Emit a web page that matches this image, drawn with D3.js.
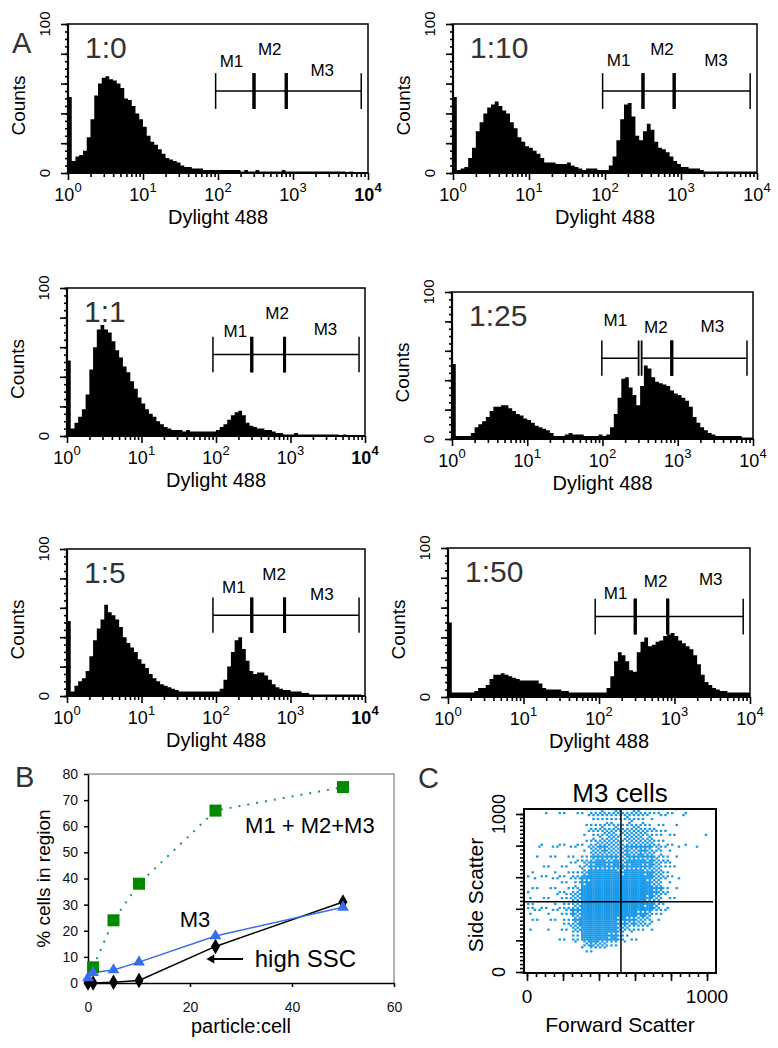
<!DOCTYPE html>
<html>
<head>
<meta charset="utf-8">
<script src="https://cdn.jsdelivr.net/npm/d3@7"></script>
<style>
body { margin: 0; background: #fff; }
svg { display: block; font-family: Arial, "Liberation Sans", sans-serif; }
</style>
</head>
<body>
<svg id="fig" width="778" height="1048"></svg>
<script>
// ---------------- data ----------------
// histogram counts, 20 log bins per decade from 10^0 to 10^4
var binsPerDecade = 20;
var samples = ["1:0", "1:10", "1:1", "1:25", "1:5", "1:50"];

var counts_1_0 = [51,8,11,12,15,24,36,52,60,64, 65,63,62,60,57,50,49,45,40,36,
  31,25,21,19,16,13,10,9,8,7, 5,4,4,3,3,3,2,2,2,2, 2,2,2,2,2,2,1,2,1,1,
  2,1,1,1,1,1,1,2,1,1, 1,1,1,1,1,1,1,1,1,1, 1,1,1,1,0,1,0,0,0,0];
var counts_1_10 = [51,2,3,4,10,17,28,34,40,44, 46,48,45,42,40,34,30,24,21,18,
  17,15,13,10,7,7,7,6,6,6, 7,5,4,3,2,3,3,3,2,2, 2,5,11,22,36,46,47,38,25,22,
  28,33,29,21,17,16,14,11,8,6, 4,4,3,3,3,2,1,1,1,1, 1,1,1,1,1,1,1,1,1,1];
var counts_1_1 = [51,5,9,13,18,28,45,60,72,75, 72,70,64,58,53,47,43,37,32,26,
  22,18,15,13,10,8,6,5,4,4, 4,3,4,3,3,3,3,3,3,3, 4,6,8,11,14,16,17,14,9,7,
  6,5,5,4,4,3,2,2,1,1, 1,2,1,1,1,1,1,1,1,1, 1,1,1,0,1,0,0,0,0,0];
var counts_1_25 = [51,2,2,2,2,4,8,10,12,15, 19,22,22,23,23,21,19,17,16,14,
  13,11,9,8,7,6,4,2,2,2, 3,4,3,3,3,2,2,2,2,3, 2,3,8,17,28,41,42,35,30,23,
  36,50,48,42,39,38,37,36,33,31, 30,28,26,22,15,11,8,6,4,3, 2,2,2,2,2,2,2,1,1,1];
var counts_1_5 = [51,3,7,10,12,17,27,38,46,52, 62,57,55,52,47,40,36,33,30,25,
  22,19,15,12,10,8,7,6,5,4, 3,3,3,3,3,3,3,3,3,3, 3,5,11,20,30,38,40,32,24,17,
  15,16,16,14,11,8,6,5,4,4, 3,3,3,2,2,1,1,1,1,1, 1,1,1,1,1,1,1,1,1,0];
var counts_1_50 = [50,3,3,3,3,3,3,4,6,6, 8,12,15,15,16,15,14,13,12,11,
  11,11,11,11,9,6,5,5,5,5, 4,4,3,3,3,3,3,3,3,3, 3,3,6,14,24,30,28,24,18,17,
  30,37,40,34,35,37,38,41,42,43, 41,38,36,34,32,28,22,15,10,8, 6,5,4,4,3,3,3,3,3,3];
var histCounts = [counts_1_0, counts_1_10, counts_1_1, counts_1_25, counts_1_5, counts_1_50];

// marker gates (Dylight 488 values) and their drawing level (counts)
var gateM1 = [[93,302],[93,316],[91,302],[98,302],[91,302],[89,302]];
var gateM2 = [[302,813],[316,813],[302,832],[331,832],[302,832],[302,813]];
var gateM3 = [[813,8128],[813,8128],[832,8318],[832,8318],[832,8318],[813,8128]];
var gateLevel = [55,55,55,55,55,54];
var gateNames = ["M1", "M2", "M3"];

// panel B
var ratio = [0, 1, 5, 10, 25, 50];
var pctAll = [null, 6, 24, 38, 66, 75];  // M1+M2+M3 (no visible point at 0)
var pctM3 = [2, 4, 5, 8, 18, 29];        // M3
var pctSSC = [0, 0, 0.3, 1, 14, 31];     // high SSC
var bYTicks = [0,10,20,30,40,50,60,70,80];
var bXTicks = [0,20,40,60];

// panel C: event density in 50x50 cells, rows from SSC 1000-1050 down to 0-50,
// columns FSC 0-50 ... 950-1000 (0 = empty, 9 = solid)
var sscDensity = [
  [0,0,1,1,1,1,2,3,4,4,4,4,4,3,3,2,2,1,0,0],
  [0,0,0,0,0,0,1,3,3,3,3,4,3,2,1,1,0,1,0,0],
  [0,0,0,0,0,0,1,3,4,4,3,4,4,3,2,1,1,0,0,0],
  [0,0,0,0,0,0,2,3,4,5,4,5,5,4,3,2,1,0,0,1],
  [0,1,0,1,1,1,2,4,5,5,4,5,5,5,3,2,1,1,0,0],
  [0,1,1,1,1,1,2,5,6,5,5,6,6,6,4,2,1,0,1,0],
  [0,1,1,1,1,2,3,6,6,6,5,7,7,6,4,3,1,0,0,0],
  [0,1,1,1,2,2,4,7,7,7,6,7,7,7,5,3,1,0,0,0],
  [2,1,1,2,2,3,6,8,8,8,7,8,8,7,5,3,1,0,0,0],
  [1,0,1,2,2,3,7,9,9,9,8,8,8,7,5,2,1,0,0,0],
  [2,1,1,2,2,4,8,9,9,9,8,9,9,8,6,3,1,0,0,0],
  [1,1,1,2,3,5,8,9,9,9,8,9,8,7,5,2,1,0,0,0],
  [3,1,1,2,3,5,8,9,9,9,8,8,8,7,4,2,0,0,0,0],
  [2,1,2,2,3,6,9,9,9,9,8,8,7,6,3,1,0,0,0,0],
  [1,1,1,1,3,6,9,9,9,9,7,6,5,4,1,0,0,0,0,0],
  [1,0,1,1,2,5,9,9,9,8,5,4,3,2,0,0,0,0,0,0],
  [0,0,0,1,1,3,8,9,9,7,3,2,1,0,0,0,0,0,0,0],
  [0,0,0,0,0,1,4,6,5,3,1,0,0,0,0,0,0,0,0,0],
  [0,0,0,0,0,0,1,1,0,0,0,0,0,0,0,0,0,0,0,0],
  [0,0,0,0,0,0,0,0,0,0,0,0,0,0,0,0,0,0,0,0],
  [0,0,0,0,0,0,0,0,0,0,0,0,0,0,0,0,0,0,0,0]
];
var fscGate = 522, sscGate = 445;

// ---------------- layout ----------------
var svg = d3.select("#fig");

var histLayout = [
  {left: 68,  top: 24,  right: 368, bottom: 173, boldEnd: true,
   mLabels: [[2.18,71],[2.69,79],[3.39,65]]},
  {left: 453, top: 24,  right: 757, bottom: 173,
   mLabels: [[2.18,72],[2.75,79],[3.46,72]]},
  {left: 67,  top: 288, right: 365, bottom: 436, boldEnd: true,
   mLabels: [[2.26,67],[2.82,79],[3.47,68]]},
  {left: 452, top: 292, right: 753, bottom: 439,
   mLabels: [[2.17,77],[2.71,72],[3.46,73]]},
  {left: 67,  top: 549, right: 365, bottom: 696, boldEnd: true,
   mLabels: [[2.24,70],[2.78,79],[3.42,65]]},
  {left: 448, top: 548, right: 750, bottom: 697,
   mLabels: [[2.22,66],[2.75,74],[3.48,75]]}
];

function drawHist(k) {
  var L = histLayout[k];
  var data = histCounts[k];
  var x = d3.scaleLog().domain([1, 1e4]).range([L.left, L.right]);
  var y = d3.scaleLinear().domain([0, 100]).range([L.bottom, L.top]);
  var g = svg.append("g");

  // histogram as a step area
  var pts = data.map(function(v, i) { return [Math.pow(10, i / binsPerDecade), v]; });
  pts.push([1e4, data[data.length - 1]]);
  g.append("path")
    .datum(pts)
    .attr("d", d3.area()
      .curve(d3.curveStepAfter)
      .x(function(d) { return x(d[0]); })
      .y0(y(0))
      .y1(function(d) { return y(d[1]); }))
    .attr("fill", "#000");

  // frame
  g.append("rect")
    .attr("x", L.left).attr("y", L.top)
    .attr("width", L.right - L.left).attr("height", L.bottom - L.top)
    .attr("fill", "none").attr("stroke", "#000").attr("stroke-width", 1.5);
  g.append("line")
    .attr("x1", L.left).attr("x2", L.left).attr("y1", L.top).attr("y2", L.bottom)
    .attr("stroke", "#000").attr("stroke-width", 2.2);
  g.append("line")
    .attr("x1", L.left).attr("x2", L.right).attr("y1", L.bottom).attr("y2", L.bottom)
    .attr("stroke", "#000").attr("stroke-width", 2.2);

  // y ticks
  var yMinor = g.append("g").attr("transform", "translate(" + L.left + ",0)")
    .call(d3.axisLeft(y).tickValues(d3.range(0, 101, 5)).tickSize(3).tickFormat(""));
  var yMajor = g.append("g").attr("transform", "translate(" + L.left + ",0)")
    .call(d3.axisLeft(y).tickValues(d3.range(0, 101, 20)).tickSize(7).tickFormat(""));
  [yMinor, yMajor].forEach(function(a) {
    a.select(".domain").remove();
    a.selectAll("line").attr("stroke-width", 1.6);
  });

  // x ticks (log)
  var minor = [];
  for (var d = 0; d < 4; d++) for (var m = 2; m <= 9; m++) minor.push(m * Math.pow(10, d));
  var xMinor = g.append("g").attr("transform", "translate(0," + L.bottom + ")")
    .call(d3.axisBottom(x).tickValues(minor).tickSize(4).tickFormat(""));
  var xMajor = g.append("g").attr("transform", "translate(0," + L.bottom + ")")
    .call(d3.axisBottom(x).tickValues([1, 10, 100, 1000, 10000]).tickSize(7).tickFormat(""));
  [xMinor, xMajor].forEach(function(a) {
    a.select(".domain").remove();
    a.selectAll("line").attr("stroke-width", 1.6);
  });

  // x tick labels 10^n
  [0, 1, 2, 3, 4].forEach(function(e) {
    var t = g.append("text")
      .attr("x", x(Math.pow(10, e))).attr("y", L.bottom + 28)
      .attr("text-anchor", "middle").attr("font-size", 18)
      .attr("font-weight", (e === 4 && L.boldEnd) ? "bold" : "normal")
      .text("10");
    t.append("tspan").attr("dy", -9).attr("font-size", 13).text(e);
  });
  g.append("text")
    .attr("x", (L.left + L.right) / 2).attr("y", L.bottom + 51)
    .attr("text-anchor", "middle").attr("font-size", 20)
    .text("Dylight 488");

  // y labels (rotated)
  [[100, L.top], [0, L.bottom]].forEach(function(p) {
    g.append("text")
      .attr("transform", "translate(" + (L.left - 18) + "," + p[1] + ") rotate(-90)")
      .attr("text-anchor", "middle").attr("font-size", 15)
      .text(p[0]);
  });
  g.append("text")
    .attr("transform", "translate(" + (L.left - 43) + "," + ((L.top + L.bottom) / 2 + 7) + ") rotate(-90)")
    .attr("text-anchor", "middle").attr("font-size", 19)
    .text("Counts");

  // sample label
  g.append("text")
    .attr("x", L.left + 17).attr("y", L.top + 34)
    .attr("font-size", 30).attr("fill", "#333")
    .text(samples[k]);

  // gates
  var gy = y(gateLevel[k]);
  var half = y(0) - y(12);
  [gateM1[k], gateM2[k], gateM3[k]].forEach(function(gt, j) {
    g.append("line")
      .attr("x1", x(gt[0])).attr("x2", x(gt[1])).attr("y1", gy).attr("y2", gy)
      .attr("stroke", "#000").attr("stroke-width", 1.5);
    gt.forEach(function(v, s) {
      var outer = (j === 0 && s === 0) || (j === 2 && s === 1);
      var split = gateM1[k][1] !== gateM2[k][0] && j < 2 && ((j === 0 && s === 1) || (j === 1 && s === 0));
      g.append("line")
        .attr("x1", x(v)).attr("x2", x(v)).attr("y1", gy - half).attr("y2", gy + half)
        .attr("stroke", "#000").attr("stroke-width", outer ? 1.5 : (split ? 1.8 : 3));
    });
    var lp = L.mLabels[j];
    g.append("text")
      .attr("x", x(Math.pow(10, lp[0]))).attr("y", y(lp[1]))
      .attr("text-anchor", "middle").attr("font-size", 17)
      .text(gateNames[j]);
  });
}

for (var k = 0; k < 6; k++) drawHist(k);

// panel letters
[["A", 12, 53], ["B", 15, 787], ["C", 418, 788]].forEach(function(p) {
  svg.append("text").attr("x", p[1]).attr("y", p[2])
    .attr("font-size", 29).attr("fill", "#333").text(p[0]);
});

// ---------------- panel B ----------------
(function() {
  var x = d3.scaleLinear().domain([0, 60]).range([88, 394]);
  var y = d3.scaleLinear().domain([0, 80]).range([983, 774]);
  var g = svg.append("g");

  // grey frame top/right
  g.append("path")
    .attr("d", "M" + x(0) + "," + y(80) + "H" + x(60) + "V" + y(0))
    .attr("fill", "none").attr("stroke", "#999").attr("stroke-width", 1.5);

  var ya = g.append("g").attr("transform", "translate(" + x(0) + ",0)")
    .call(d3.axisLeft(y).tickValues(bYTicks).tickSize(4).tickSizeOuter(0).tickPadding(6));
  var xa = g.append("g").attr("transform", "translate(0," + y(0) + ")")
    .call(d3.axisBottom(x).tickValues(bXTicks).tickSize(4).tickSizeOuter(0).tickPadding(15));
  [ya, xa].forEach(function(a) {
    a.selectAll("text").attr("font-size", 14).attr("font-family", null).attr("fill", "#111");
    a.selectAll("line,path").attr("stroke-width", 1.5);
  });

  g.append("text")
    .attr("transform", "translate(50," + ((y(0) + y(80)) / 2) + ") rotate(-90)")
    .attr("text-anchor", "middle").attr("font-size", 19)
    .text("% cells in region");
  g.append("text")
    .attr("x", (x(0) + x(60)) / 2).attr("y", 1033)
    .attr("text-anchor", "middle").attr("font-size", 20)
    .text("particle:cell");

  function pts(vals) {
    return ratio.map(function(r, i) { return [r, vals[i]]; })
      .filter(function(d) { return d[1] != null; });
  }
  var line = d3.line().x(function(d) { return x(d[0]); }).y(function(d) { return y(d[1]); });

  g.append("path").datum(pts(pctAll)).attr("d", line)
    .attr("fill", "none").attr("stroke", "#2a9460").attr("stroke-width", 2)
    .attr("stroke-dasharray", "2,7");
  g.append("path").datum(pts(pctSSC)).attr("d", line)
    .attr("fill", "none").attr("stroke", "#000").attr("stroke-width", 1.5);
  g.append("path").datum(pts(pctM3)).attr("d", line)
    .attr("fill", "none").attr("stroke", "#3a6cf0").attr("stroke-width", 1.5);

  g.selectAll(".sq").data(pts(pctAll)).enter().append("rect")
    .attr("x", function(d) { return x(d[0]) - 6; })
    .attr("y", function(d) { return y(d[1]) - 6; })
    .attr("width", 12).attr("height", 12).attr("fill", "#008a00");
  g.selectAll(".dm").data(pts(pctSSC)).enter().append("path")
    .attr("transform", function(d) { return "translate(" + x(d[0]) + "," + y(d[1]) + ")"; })
    .attr("d", d3.symbol(d3.symbolDiamond, 70)).attr("fill", "#000");
  g.selectAll(".tr").data(pts(pctM3)).enter().append("path")
    .attr("transform", function(d) { return "translate(" + x(d[0]) + "," + y(d[1]) + ")"; })
    .attr("d", d3.symbol(d3.symbolTriangle, 60)).attr("fill", "#3a6cf0");

  g.append("text").attr("x", x(30.8)).attr("y", y(57.5))
    .attr("font-size", 22).text("M1 + M2+M3");
  g.append("text").attr("x", x(18)).attr("y", y(21.5))
    .attr("font-size", 22).text("M3");
  g.append("text").attr("x", x(32.7)).attr("y", y(6.1))
    .attr("font-size", 24).text("high SSC");
  // arrow to the high SSC line
  var ay = y(9.2);
  g.append("line").attr("x1", x(30.4)).attr("x2", x(24.2)).attr("y1", ay).attr("y2", ay)
    .attr("stroke", "#000").attr("stroke-width", 2);
  g.append("path")
    .attr("d", "M" + x(23.2) + "," + ay + "l8,-4.5v9z").attr("fill", "#000");
})();

// ---------------- panel C ----------------
(function() {
  var x = d3.scaleLinear().domain([0, 1000]).range([527, 707]);
  var y = d3.scaleLinear().domain([0, 1000]).range([972, 814]);
  var box = {left: 524, top: 809, right: 716, bottom: 973};
  var g = svg.append("g");

  svg.append("defs").append("clipPath").attr("id", "cbox")
    .append("rect").attr("x", box.left).attr("y", box.top)
    .attr("width", box.right - box.left).attr("height", box.bottom - box.top);

  // ordered-dither rendering of the density cells (pattern shifted per cell)
  var bayer = [[0,8,2,10],[12,4,14,6],[3,11,1,9],[15,7,13,5]];
  var dots = [];
  sscDensity.forEach(function(row, r) {
    var yLo = 1000 - 50 * r;
    row.forEach(function(dv, c) {
      if (!dv) return;
      var fill = 16 * Math.min(1, Math.pow(dv / 8, 1.6));
      for (var sy = 0; sy < 4; sy++) for (var sx = 0; sx < 4; sx++) {
        if (bayer[(sy + r) % 4][(sx + 2 * c + r) % 4] < fill)
          dots.push([50 * c + sx * 12.5, yLo + (sy + 1) * 12.5]);
      }
    });
  });
  var dw = x(12.5) - x(0), dh = y(0) - y(12.5);
  g.append("g").attr("clip-path", "url(#cbox)")
    .selectAll("rect").data(dots).enter().append("rect")
    .attr("x", function(d) { return x(d[0]); })
    .attr("y", function(d) { return y(d[1]); })
    .attr("width", dw + 0.2).attr("height", dh + 0.2)
    .attr("fill", "#1a98e8");

  // quadrant lines
  g.append("line").attr("x1", x(fscGate)).attr("x2", x(fscGate))
    .attr("y1", box.top).attr("y2", box.bottom).attr("stroke", "#000").attr("stroke-width", 1.5);
  g.append("line").attr("x1", box.left).attr("x2", box.right - 3)
    .attr("y1", y(sscGate)).attr("y2", y(sscGate)).attr("stroke", "#000").attr("stroke-width", 1.5);

  g.append("rect").attr("x", box.left).attr("y", box.top)
    .attr("width", box.right - box.left).attr("height", box.bottom - box.top)
    .attr("fill", "none").attr("stroke", "#000").attr("stroke-width", 2);

  // ticks
  var axes = [
    g.append("g").attr("transform", "translate(" + box.left + ",0)")
      .call(d3.axisLeft(y).tickValues(d3.range(0, 1001, 25)).tickSize(4).tickFormat("")),
    g.append("g").attr("transform", "translate(" + box.left + ",0)")
      .call(d3.axisLeft(y).tickValues(d3.range(0, 1001, 200)).tickSize(8).tickFormat("")),
    g.append("g").attr("transform", "translate(0," + box.bottom + ")")
      .call(d3.axisBottom(x).tickValues(d3.range(0, 1001, 50)).tickSize(4).tickFormat("")),
    g.append("g").attr("transform", "translate(0," + box.bottom + ")")
      .call(d3.axisBottom(x).tickValues(d3.range(0, 1001, 200)).tickSize(8).tickFormat(""))
  ];
  axes.forEach(function(a) {
    a.select(".domain").remove();
    a.selectAll("line").attr("stroke-width", 1.6);
  });

  [[1000, y(1000)], [0, y(0)]].forEach(function(p) {
    g.append("text")
      .attr("transform", "translate(" + (box.left - 19) + "," + p[1] + ") rotate(-90)")
      .attr("text-anchor", "middle").attr("font-size", 18).text(p[0]);
  });
  [[0, x(0)], [1000, x(1000)]].forEach(function(p) {
    g.append("text").attr("x", p[1]).attr("y", 1003)
      .attr("text-anchor", "middle").attr("font-size", 19).text(p[0]);
  });
  g.append("text")
    .attr("transform", "translate(483," + ((box.top + box.bottom) / 2 + 4) + ") rotate(-90)")
    .attr("text-anchor", "middle").attr("font-size", 21).text("Side Scatter");
  g.append("text").attr("x", (box.left + box.right) / 2).attr("y", 1032)
    .attr("text-anchor", "middle").attr("font-size", 21).text("Forward Scatter");
  g.append("text").attr("x", (box.left + box.right) / 2).attr("y", 802)
    .attr("text-anchor", "middle").attr("font-size", 26).text("M3 cells");
})();
</script>
</body>
</html>
